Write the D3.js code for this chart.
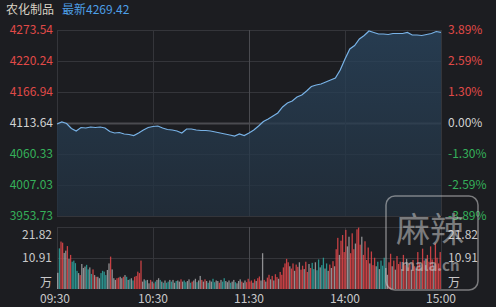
<!DOCTYPE html>
<html>
<head>
<meta charset="utf-8">
<script src="https://cdn.jsdelivr.net/npm/d3@7"></script>
<style>
  html, body { margin: 0; padding: 0; background: #1c1d21; }
  svg { display: block; font-family: "Noto Sans CJK SC", Roboto, sans-serif; }
</style>
</head>
<body>
<div id="chart"></div>
<script>
// Index name and latest value
const title = '农化制品';
const latest = '最新4269.42';

// Price axis labels
const priceTicks = [4273.54, 4220.24, 4166.94, 4113.64, 4060.33, 4007.03, 3953.73];
const pctTicks = ['3.89%', '2.59%', '1.30%', '0.00%', '-1.30%', '-2.59%', '-3.89%'];
const prevClose = 4113.64;

// Time labels (minute index in the trading day)
const timeLabels = ['09:30', '10:30', '11:30', '14:00', '15:00'];
const timeMinutes = [0, 60, 120, 180, 240];

// Price sampled every 3 trading minutes
const priceStep = 3;
const prices = [
  4111.92, 4115.36, 4112.78, 4104.18, 4099.88, 4105.90, 4105.04, 4106.76, 4105.90, 4106.76,
  4105.04, 4099.02, 4096.44, 4097.30, 4094.72, 4093.86, 4092.14, 4096.44, 4101.60, 4105.90,
  4107.62, 4108.48, 4105.04, 4102.46, 4101.60, 4099.88, 4096.44, 4103.32, 4103.32, 4101.60,
  4100.74, 4100.74, 4099.88, 4098.16, 4096.44, 4094.72, 4093.00, 4091.28, 4094.72, 4092.14,
  4096.44, 4101.60, 4108.48, 4116.21, 4120.51, 4125.67, 4130.83, 4141.15, 4148.02, 4151.46,
  4158.34, 4161.78, 4168.66, 4176.39, 4178.97, 4180.69, 4184.13, 4187.57, 4191.01, 4204.76,
  4223.68, 4240.87, 4246.89, 4258.07, 4264.08, 4271.82, 4269.24, 4266.66, 4266.66, 4265.80,
  4267.52, 4267.52, 4267.52, 4269.24, 4264.94, 4264.94, 4264.08, 4265.80, 4267.52, 4270.96,
  4269.42
];

// Volume per minute (万)
const volumes = [
  5.7, 14.3, 16.7, 16.3, 12.7, 13.5, 15.1, 10.6, 12.0, 9.6, 10.0, 9.1, 6.4, 5.6, 4.9, 8.8, 7.4, 7.9, 8.5, 6.9,
  7.6, 5.3, 6.9, 4.9, 4.3, 4.3, 3.8, 5.6, 6.4, 6.1, 4.9, 6.7, 9.0, 11.4, 6.9, 3.8, 3.2, 3.8, 4.0, 4.3,
  3.8, 4.3, 4.9, 4.3, 3.2, 3.4, 3.8, 3.0, 4.3, 4.6, 6.1, 5.6, 10.0, 2.6, 3.4, 3.0, 3.2, 2.0, 3.2, 2.6,
  2.0, 2.6, 3.2, 3.8, 3.2, 2.6, 2.2, 3.0, 2.2, 2.6, 3.2, 2.6, 3.2, 2.2, 2.8, 3.0, 2.6, 3.4, 2.6, 3.0,
  2.4, 2.8, 3.4, 2.2, 2.6, 3.0, 3.6, 2.4, 3.0, 4.6, 3.2, 2.6, 3.4, 2.8, 2.2, 3.0, 2.6, 3.6, 2.4, 3.0,
  2.8, 2.2, 3.2, 2.6, 3.8, 2.8, 2.4, 3.0, 2.2, 2.6, 3.2, 2.4, 2.0, 2.8, 3.4, 2.6, 2.2, 3.0, 2.4, 3.6,
  2.6, 3.0, 2.2, 3.4, 2.8, 3.8, 4.4, 3.0, 12.6, 3.2, 2.6, 4.0, 5.0, 3.4, 4.6, 3.0, 5.2, 4.2, 3.6, 6.0,
  5.0, 7.6, 9.0, 10.6, 9.4, 8.0, 7.2, 9.0, 6.4, 8.6, 7.8, 9.4, 6.8, 8.2, 7.0, 9.6, 6.0, 8.8, 7.4, 9.2,
  7.0, 9.4, 6.6, 10.4, 7.6, 8.4, 11.0, 7.2, 9.0, 6.4, 8.6, 7.4, 9.8, 8.0, 14.0, 18.0, 12.0, 17.0, 19.0, 13.0,
  20.8, 15.0, 18.4, 12.6, 19.6, 14.0, 16.0, 21.0, 21.6, 15.6, 18.4, 12.0, 16.8, 10.2, 14.6, 9.0, 13.2, 8.4, 11.0, 8.0,
  9.6, 7.0, 10.0, 8.2, 11.0, 7.4, 5.0, 9.4, 12.4, 8.0, 10.0, 6.8, 11.6, 8.8, 9.6, 7.0, 12.0, 8.4, 10.6, 7.6,
  9.0, 6.8, 10.2, 8.0, 7.2, 13.0, 9.0, 7.6, 14.2, 10.0, 8.4, 12.0, 9.6, 15.0, 10.4, 8.0, 16.0, 11.0, 9.0, 13.0
];
// Bar colour per minute: r = up, g = down, n = flat
const volumeDirs = [
  'ngrrnnrnrggggnrnnngg', 'ngrnrnnggggnnrnnnrrn', 'nrngngngrrrrrnngnnrn',
  'rgnngngnggngnngnnrng', 'gnngrnngnnrnrngnnggn', 'nrnggnnngnngnnnrnnrr',
  'rrnrnrrnnrnrrnrnrrnr', 'rrrrrnrrnrrnrrnrrnrg', 'gnggnggngnrnrnrrnrrr',
  'rnnrrrnrrrnrrrrnrrrn', 'gngggnnrrnrnrrrnrrnr', 'rnrrnrrnrrnrrrrnrrrr'
].join('');
const volTicks = [21.82, 10.91];
const volMax = 21.82;

const width = 496, height = 307;
const left = 57, right = 441;
const priceTop = 30, priceBottom = 216;
const volTop = 227, volBottom = 289;

const colors = {
  bg: '#1c1d21',
  grid: '#34353a',
  zero: '#4a4b50',
  up: '#e5474a',
  down: '#2ea6a0',
  flat: '#a3a3a6',
  line: '#78b2e6'
};

const svg = d3.select('#chart').append('svg')
  .attr('width', width)
  .attr('height', height);

svg.append('rect').attr('width', width).attr('height', height).attr('fill', colors.bg);

const x = d3.scaleLinear().domain([0, 240]).range([left, right]);
const y = d3.scaleLinear().domain([3953.73, 4273.54]).range([priceBottom, priceTop]);
const yv = d3.scaleLinear().domain([0, volMax]).range([volBottom, volTop]);

// Title
const head = svg.append('text').attr('x', 6).attr('y', 14).style('font-size', '12px');
head.append('tspan').attr('fill', '#d9d2c4').text(title);
head.append('tspan').attr('dx', 8).attr('fill', '#4d9fe6').text(latest);

// Price grid
svg.append('g').selectAll('line')
  .data(priceTicks)
  .join('line')
  .attr('x1', left).attr('x2', right)
  .attr('y1', d => Math.round(y(d)) + 0.5).attr('y2', d => Math.round(y(d)) + 0.5)
  .attr('stroke', d => d === prevClose ? colors.zero : colors.grid)
  .attr('stroke-width', d => d === prevClose ? 2 : 1);

// Volume grid
svg.append('g').selectAll('line')
  .data(volTicks)
  .join('line')
  .attr('x1', left).attr('x2', right)
  .attr('y1', d => Math.round(yv(d)) + 0.5).attr('y2', d => Math.round(yv(d)) + 0.5)
  .attr('stroke', colors.grid);

// Vertical grid lines
const vlines = svg.append('g');
timeMinutes.forEach(m => {
  [[priceTop, priceBottom], [volTop, volBottom]].forEach(([a, b]) => {
    vlines.append('line')
      .attr('x1', Math.round(x(m)) + 0.5).attr('x2', Math.round(x(m)) + 0.5)
      .attr('y1', a).attr('y2', b)
      .attr('stroke', m === 120 ? '#4a4b50' : colors.grid);
  });
});

// Price area and line
const priceData = prices.map((p, i) => ({ m: i * priceStep, p }));
const grad = svg.append('defs').append('linearGradient')
  .attr('id', 'areaGrad').attr('x1', 0).attr('x2', 0).attr('y1', 0).attr('y2', 1);
grad.append('stop').attr('offset', '0%').attr('stop-color', '#2a4660').attr('stop-opacity', 0.75);
grad.append('stop').attr('offset', '100%').attr('stop-color', '#22303e').attr('stop-opacity', 0.75);

svg.append('path')
  .datum(priceData)
  .attr('fill', 'url(#areaGrad)')
  .attr('d', d3.area().x(d => x(d.m)).y0(priceBottom).y1(d => y(d.p)));

svg.append('path')
  .datum(priceData)
  .attr('fill', 'none')
  .attr('stroke', colors.line)
  .attr('stroke-width', 1.2)
  .attr('d', d3.line().x(d => x(d.m)).y(d => y(d.p)));

// Volume bars
svg.append('g').selectAll('rect')
  .data(volumes)
  .join('rect')
  .attr('x', (d, i) => x(i + 0.5) - 0.65)
  .attr('width', 1.3)
  .attr('y', d => yv(d))
  .attr('height', d => volBottom - yv(d))
  .attr('fill', (d, i) => {
    const c = volumeDirs[i];
    return c === 'r' ? colors.up : c === 'g' ? colors.down : colors.flat;
  })
  .attr('opacity', (d, i) => i === 0 ? 1 : 0.85);

// Price labels
const labelColor = (d) => d > prevClose ? '#e04a48' : d < prevClose ? '#35b05a' : '#d2d2d2';
svg.append('g').selectAll('text')
  .data(priceTicks)
  .join('text')
  .attr('x', 53).attr('y', d => y(d) + 4)
  .attr('text-anchor', 'end')
  .attr('fill', labelColor)
  .style('font-size', '12px')
  .text(d => d.toFixed(2));

svg.append('g').selectAll('text')
  .data(pctTicks)
  .join('text')
  .attr('x', 448).attr('y', (d, i) => y(priceTicks[i]) + 4)
  .attr('fill', (d, i) => labelColor(priceTicks[i]))
  .style('font-size', '12px')
  .text(d => d);

// Volume labels
const volLabels = [...volTicks.map(d => d.toFixed(2)), '万'];
const volLabelY = [235, 258, 283];
svg.append('g').selectAll('text')
  .data(volLabels)
  .join('text')
  .attr('x', 52).attr('y', (d, i) => volLabelY[i] + 4)
  .attr('text-anchor', 'end')
  .attr('fill', '#c8c8ca')
  .style('font-size', '12px')
  .text(d => d);
svg.append('g').selectAll('text')
  .data(volLabels)
  .join('text')
  .attr('x', 448).attr('y', (d, i) => volLabelY[i] + 4)
  .attr('fill', '#c8c8ca')
  .style('font-size', '12px')
  .text(d => d);

// Time labels
svg.append('g').selectAll('text')
  .data(timeLabels)
  .join('text')
  .attr('x', (d, i) => x(timeMinutes[i]) - (i === 0 ? 2 : 0))
  .attr('y', 303)
  .attr('text-anchor', 'middle')
  .attr('fill', '#c8c8ca')
  .style('font-size', '12px')
  .text(d => d);

// Watermark
const wm = svg.append('g').attr('opacity', 0.5);
wm.append('rect')
  .attr('x', 386).attr('y', 196).attr('width', 92).attr('height', 94).attr('rx', 9)
  .attr('fill', 'none').attr('stroke', '#d8d8d8').attr('stroke-width', 1.5);
wm.append('text')
  .attr('x', 430).attr('y', 242).attr('text-anchor', 'middle')
  .attr('fill', '#d8d8d8').style('font-size', '34px')
  .text('麻辣');
wm.append('text')
  .attr('x', 430).attr('y', 271).attr('text-anchor', 'middle')
  .attr('fill', '#d8d8d8').style('font-size', '15px').style('font-weight', 'bold')
  .text('mala.cn');
</script>
</body>
</html>
